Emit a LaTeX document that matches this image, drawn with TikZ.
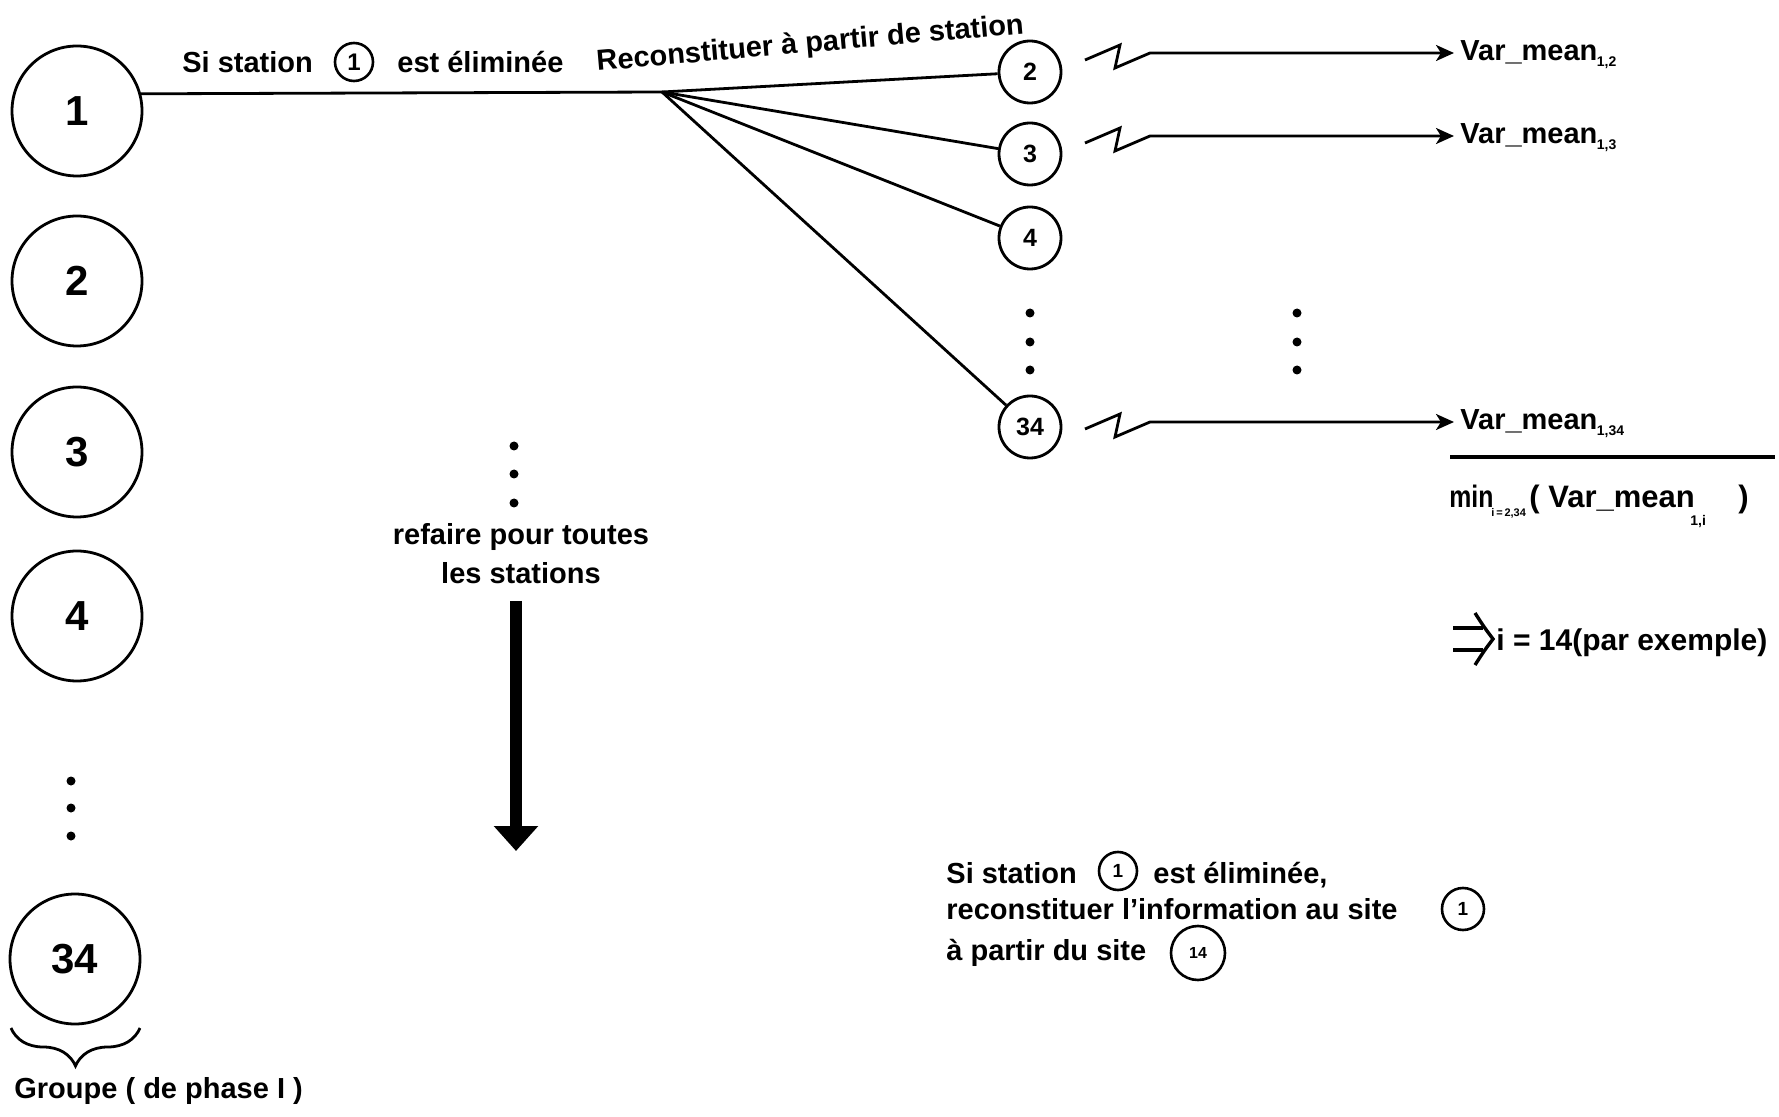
\documentclass[tikz,border=0pt]{standalone}
\usepackage{fontspec}
\setmainfont{Liberation Sans}
\usetikzlibrary{arrows.meta,decorations.pathreplacing}
\begin{document}
\begin{tikzpicture}[x=0.5pt,y=-0.5pt,
  every node/.style={inner sep=0pt},
  txt/.style={font=\fontsize{14.5}{17}\selectfont\bfseries},
  bigtxt/.style={font=\fontsize{15.5}{17}\selectfont\bfseries},
  bigc/.style={circle,draw,line width=1.4pt,minimum size=65pt,font=\fontsize{21}{24}\selectfont\bfseries},
  smc/.style={circle,draw,line width=1.4pt,minimum size=31pt,font=\fontsize{12.5}{14}\selectfont\bfseries},
  inc/.style={circle,draw,line width=1.3pt,minimum size=19pt,font=\fontsize{12}{13}\selectfont\bfseries},
  tinyc/.style={circle,draw,line width=1.3pt,font=\fontsize{9.5}{10}\selectfont\bfseries},
  subt/.style={font=\fontsize{7}{8}\selectfont\bfseries},
  conn/.style={line width=1.4pt},
  zz/.style={line width=1.4pt,-{Stealth[length=9pt,width=8pt,inset=2.5pt]}},
  dotn/.style={circle,fill,minimum size=4.5pt}]

\useasboundingbox (0,0) rectangle (1779,1117);

% left column of stations
\node[bigc] (c1) at (77,111) {1};
\node[bigc] (c2) at (77,281) {2};
\node[bigc] (c3) at (77,452) {3};
\node[bigc] (c4) at (77,616) {4};
\node[bigc] (c34) at (75,959) {34};
\foreach \y in {781,808,836} \node[dotn] at (71,\y) {};

% brace
\draw[line width=1.4pt,decorate,decoration={brace,mirror,amplitude=19pt}] (11,1028) -- (140,1028);
\node[txt,anchor=base west] (grp) at (14,1098) {Groupe ( de phase I )};

% title
\node[txt,anchor=base west] (t1) at (182,73) {Si station};
\node[inc] (tc1) at (354,62) {1};
\node[txt,anchor=base west] (t2) at (397,73) {est éliminée};
\node[txt,anchor=base west,rotate=5] (t3) at (597,71) {Reconstituer à partir de station};

% hub and fan
\coordinate (hub) at (662,92);
\node[smc] (s2) at (1030,72) {2};
\node[smc] (s3) at (1030,154) {3};
\node[smc] (s4) at (1030,238) {4};
\node[smc] (s34) at (1030,427) {34};
\draw[conn] (c1.15) -- (hub);
\foreach \n in {s2,s3,s4,s34} \draw[conn] (hub) -- (\n);
\foreach \y in {313,342,370} \node[dotn] at (1030,\y) {};

% results
\node[txt,anchor=base west,inner xsep=3pt] (v2) at (1454,61) {Var\_mean\kern-0.3pt\raisebox{-3pt}{\fontsize{7}{8}\selectfont 1,2}};
\node[txt,anchor=base west,inner xsep=3pt] (v3) at (1454,144) {Var\_mean\kern-0.3pt\raisebox{-3pt}{\fontsize{7}{8}\selectfont 1,3}};
\node[txt,anchor=base west,inner xsep=3pt] (v34) at (1454,430) {Var\_mean\kern-0.3pt\raisebox{-3pt}{\fontsize{7}{8}\selectfont 1,34}};

\coordinate (z2) at (1085,60);
\coordinate (z3) at (1085,143);
\coordinate (z34) at (1085,429);
\draw[zz] (z2) -- ++(35,-15) -- ++(-5,23) -- ++(35,-15) coordinate (j2) -- (j2 -| v2.west);
\draw[zz] (z3) -- ++(35,-15) -- ++(-5,23) -- ++(35,-15) coordinate (j3) -- (j3 -| v3.west);
\draw[zz] (z34) -- ++(35,-15) -- ++(-5,23) -- ++(35,-15) coordinate (j34) -- (j34 -| v34.west);
\foreach \y in {313,342,370} \node[dotn] at (1297,\y) {};

% min line
\coordinate (r1) at (1450,457);
\coordinate (r2) at (1775,457);
\draw[line width=1.6pt] (r1) -- (r2);
\node[bigtxt,anchor=base west] (mn) at (1449,508) {\scalebox{0.8}[1]{min}};
\node[font=\fontsize{5.5}{6}\selectfont\bfseries,anchor=base west] (mns) at (1491,517) {i\,=\,2,34};
\node[bigtxt,anchor=base west] (vm) at (1529,508) {( Var\_mean};
\node[subt,anchor=base west] (vms) at (1690,526) {1,i};
\node[bigtxt,anchor=base west] (cp) at (1738,508) {)};

% implies
\draw[line width=1.7pt] (1453,628) -- (1483,628);
\draw[line width=1.7pt] (1453,650) -- (1483,650);
\draw[line width=1.7pt] (1475,613) .. controls (1484,627) .. (1493,639) .. controls (1484,651) .. (1475,665);
\node[font=\fontsize{15}{17}\selectfont\bfseries,anchor=base west] (ex) at (1496,650) {i = 14(par exemple)};

% middle
\foreach \y in {446,474,503} \node[dotn] at (514,\y) {};
\node[txt,anchor=base] (rf1) at (521,545) {refaire pour toutes};
\node[txt,anchor=base] (rf2) at (521,584) {les stations};
\coordinate (a1) at (516,601);
\coordinate (a2) at (516,851);
\draw[line width=6pt,-{Triangle[length=12.5pt,width=21.5pt]}] (a1) -- (a2);

% bottom conclusion
\node[txt,anchor=base west] (b1) at (946,883) {Si station};
\node[tinyc,minimum size=19pt] (bc1) at (1118,871) {1};
\node[txt,anchor=base west] (b1b) at (1153,883) {est éliminée,};
\node[txt,anchor=base west] (b2) at (946,919) {reconstituer l'information au site};
\node[tinyc,minimum size=21pt] (bc2) at (1463,909) {1};
\node[txt,anchor=base west] (b3) at (946,960) {à partir du site};
\node[tinyc,minimum size=27pt,font=\fontsize{8}{9}\selectfont\bfseries] (bc3) at (1198,953) {14};
\end{tikzpicture}
\end{document}
